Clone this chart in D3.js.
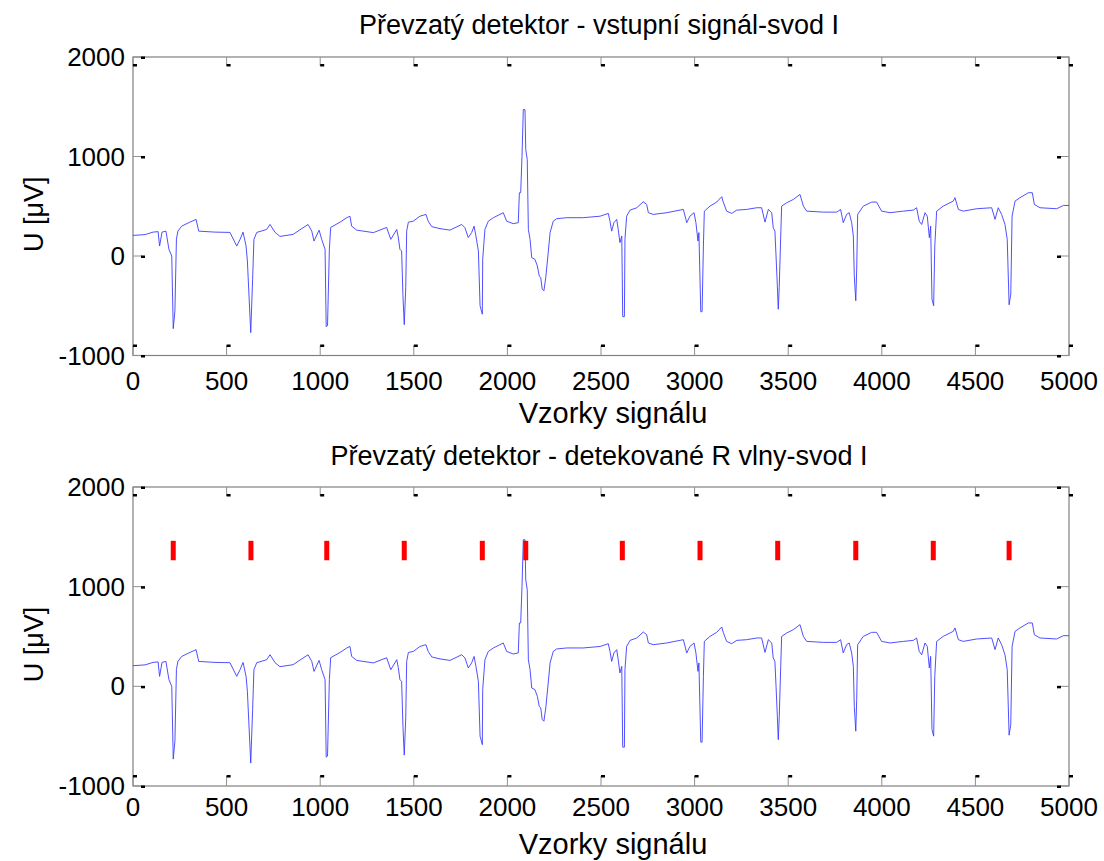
<!DOCTYPE html>
<html>
<head>
<meta charset="utf-8">
<script src="https://cdn.jsdelivr.net/npm/d3@7"></script>
<style>
  body { margin: 0; background: #fff; }
  text { font-family: "Liberation Sans", Arial, sans-serif; fill: #000; }
</style>
</head>
<body>
<div id="chart"></div>
<script>
// ECG lead I, breakpoints: sample index and value in uV
var samples = [0, 64, 107, 134, 142, 155, 176, 192, 207, 215, 224, 232, 240, 260, 304, 337, 351, 438, 518,
  554, 572, 588, 604, 611, 629, 639, 646, 661, 714, 732, 759, 785, 855, 935, 955, 967, 994, 1008, 1026,
  1032, 1039, 1049, 1056, 1106, 1142, 1159, 1168, 1195, 1284, 1355, 1377, 1409, 1417, 1426, 1435, 1442,
  1449, 1457, 1462, 1471, 1497, 1533, 1565, 1577, 1596, 1640, 1693, 1756, 1773, 1791, 1809, 1822, 1832,
  1845, 1854, 1866, 1868, 1880, 1898, 1925, 1960, 1978, 1996, 2031, 2058, 2064, 2071, 2078, 2085, 2094,
  2098, 2106, 2112, 2121, 2130, 2147, 2160, 2170, 2178, 2186, 2195, 2205, 2218, 2228, 2245, 2263, 2317,
  2405, 2495, 2539, 2548, 2557, 2569, 2584, 2592, 2601, 2611, 2616, 2625, 2628, 2637, 2655, 2691, 2726,
  2744, 2753, 2779, 2851, 2940, 2958, 2975, 2997, 3007, 3018, 3023, 3033, 3040, 3047, 3052, 3082, 3118,
  3145, 3153, 3171, 3198, 3225, 3278, 3332, 3358, 3376, 3394, 3412, 3420, 3429, 3435, 3442, 3447, 3452,
  3460, 3465, 3492, 3527, 3563, 3581, 3599, 3688, 3759, 3780, 3794, 3812, 3826, 3839, 3848, 3853, 3861,
  3866, 3871, 3901, 3946, 3972, 3999, 4044, 4115, 4168, 4186, 4200, 4213, 4231, 4243, 4254, 4261, 4268,
  4277, 4283, 4293, 4328, 4382, 4391, 4409, 4435, 4507, 4587, 4605, 4622, 4640, 4658, 4670, 4680, 4689,
  4696, 4712, 4738, 4783, 4804, 4815, 4845, 4934, 4970, 5000];

var voltages = [207, 215, 240, 245, 100, 240, 250, 67, 0, -730, -550, 170, 250, 300, 340, 368, 250, 240, 237,
  100, 167, 240, 100, -50, -770, -233, 167, 237, 267, 317, 237, 197, 217, 317, 250, 150, 260, 167, 67,
  -710, -700, 67, 287, 340, 385, 400, 300, 260, 235, 287, 167, 267, 190, 67, 50, -400,
  -690, -315, 250, 340, 350, 400, 418, 350, 295, 275, 260, 317, 285, 185, 235, 300, 200,
  50, -500, -585, -33, 267, 350, 385, 418, 435, 350, 325, 335, 636, 636, 1003, 1471, 1471,
  1070, 970, 267, 167, -17, -33, -100, -200, -217, -333, -350, -217, 33, 235, 350, 375, 385,
  385, 400, 428, 350, 250, 335, 368, 267, 134, 200, -610, -610, 167, 400, 461, 485, 545,
  518, 435, 418, 435, 468, 335, 400, 435, 335, 150, 235, -560, -560, 100, 451, 501, 542,
  596, 542, 451, 428, 461, 468, 485, 485, 341, 468, 435, 285, 250, 0, -300, -535, -317,
  200, 501, 535, 568, 619, 501, 451, 441, 441, 468, 335, 418, 435, 335, 200, -200, -450,
  -133, 418, 501, 542, 542, 451, 435, 451, 461, 485, 350, 317, 435, 400, 184, 300, -434,
  -500, 100, 451, 501, 552, 586, 468, 451, 475, 485, 368, 485, 418, 317, 167, -490, -384,
  401, 552, 586, 636, 636, 518, 485, 475, 508, 508];

// detected R waves (sample index)
var rPeaks = [215, 630, 1035, 1449, 1866, 2098, 2614, 3029, 3444, 3861, 4275, 4680];
var markLow = 1265, markHigh = 1460;

var xTicks = [0, 500, 1000, 1500, 2000, 2500, 3000, 3500, 4000, 4500, 5000];
var yTicks = [-1000, 0, 1000, 2000];

var titles = ["Převzatý detektor - vstupní signál-svod I",
              "Převzatý detektor - detekované R vlny-svod I"];
var xLabel = "Vzorky signálu";
var yLabel = "U [\u03bcV]";

var W = 1104, H = 861;
var left = 133, right = 1069;
var panels = [
  { top: 57, bottom: 355.5, tickY: 390, labelY: 423, titleY: 34 },
  { top: 487, bottom: 786, tickY: 816, labelY: 854, titleY: 465 }
];

var signal = samples.map((s, i) => ({ s: s, v: voltages[i] }));

var svg = d3.select("#chart").append("svg")
    .attr("width", W)
    .attr("height", H);

panels.forEach(function(p, k) {
  var x = d3.scaleLinear().domain([0, 5000]).range([left, right]);
  var y = d3.scaleLinear().domain([-1000, 2000]).range([p.bottom, p.top]);

  var g = svg.append("g");

  // box
  g.append("rect")
      .attr("x", left).attr("y", p.top)
      .attr("width", right - left).attr("height", p.bottom - p.top)
      .attr("fill", "none")
      .attr("stroke", "#808080")
      .attr("stroke-width", 1.2);

  // x ticks, top and bottom (grey stem + black hook)
  xTicks.forEach(function(t) {
    var tx = x(t);
    g.append("line").attr("x1", tx).attr("x2", tx).attr("y1", p.top).attr("y2", p.top + 9)
        .attr("stroke", "#909090");
    g.append("rect").attr("x", tx).attr("y", p.top + 7).attr("width", 4).attr("height", 2.5).attr("fill", "#000");
    g.append("line").attr("x1", tx).attr("x2", tx).attr("y1", p.bottom).attr("y2", p.bottom - 10)
        .attr("stroke", "#909090");
    g.append("rect").attr("x", tx).attr("y", p.bottom - 11).attr("width", 4).attr("height", 2.5).attr("fill", "#000");
    g.append("text")
        .attr("x", tx).attr("y", p.tickY)
        .attr("text-anchor", "middle")
        .attr("font-size", "26px")
        .text(t);
  });

  // y ticks, left and right
  yTicks.forEach(function(t) {
    var ty = y(t);
    g.append("line").attr("x1", left).attr("x2", left + 9).attr("y1", ty).attr("y2", ty)
        .attr("stroke", "#909090");
    g.append("rect").attr("x", left + 8).attr("y", ty - 0.5).attr("width", 4).attr("height", 2.5).attr("fill", "#000");
    g.append("line").attr("x1", right).attr("x2", right - 9).attr("y1", ty).attr("y2", ty)
        .attr("stroke", "#909090");
    g.append("rect").attr("x", right - 12).attr("y", ty - 0.5).attr("width", 4).attr("height", 2.5).attr("fill", "#000");
    g.append("text")
        .attr("x", left - 8).attr("y", ty + 9)
        .attr("text-anchor", "end")
        .attr("font-size", "26px")
        .text(t);
  });

  var line = d3.line()
      .x(d => x(d.s))
      .y(d => y(d.v));

  g.append("path")
      .datum(signal)
      .attr("fill", "none")
      .attr("stroke", "#3c3cff")
      .attr("stroke-width", 0.9)
      .attr("d", line);

  if (k == 1) {
    g.selectAll("rect.peak")
      .data(rPeaks)
      .join("rect")
        .attr("class", "peak")
        .attr("x", d => x(d) - 2.5)
        .attr("y", y(markHigh))
        .attr("width", 5)
        .attr("height", y(markLow) - y(markHigh))
        .attr("fill", "#ff0000");
  }

  g.append("text")
      .attr("x", (left + right) / 2 - 2).attr("y", p.titleY)
      .attr("text-anchor", "middle")
      .attr("font-size", "27px")
      .text(titles[k]);

  g.append("text")
      .attr("x", (left + right) / 2 + 12).attr("y", p.labelY)
      .attr("text-anchor", "middle")
      .attr("font-size", "29px")
      .text(xLabel);

  g.append("text")
      .attr("transform", `translate(43, ${(p.top + p.bottom) / 2 + 8}) rotate(-90)`)
      .attr("text-anchor", "middle")
      .attr("font-size", "27px")
      .text(yLabel);
});
</script>
</body>
</html>
